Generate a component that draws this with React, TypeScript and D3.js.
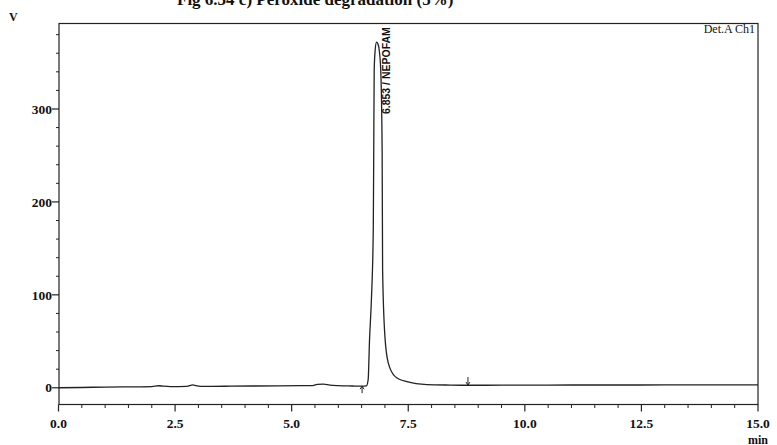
import React from "react";
import * as d3 from "d3";

// ---- data ----
const timeMin: number[] = [
  0, 0.5, 1.0, 1.5, 2.0, 2.15, 2.25, 2.4, 2.75, 2.88, 2.95, 3.05, 3.3, 3.7, 4.2, 4.7, 5.2, 5.45,
  5.55, 5.68, 5.82, 6.0, 6.3, 6.5, 6.6, 6.64, 6.67, 6.71, 6.75, 6.76, 6.77, 6.79, 6.82, 6.85,
  6.87, 6.91, 6.94, 6.95, 7.0, 7.07, 7.22, 7.47, 7.9, 8.4, 8.8, 9.5, 10.5, 11.5, 12.5, 13.5, 14.5, 15.0,
];
const signalMv: number[] = [
  0, 0.3, 0.8, 1.0, 1.3, 2.2, 1.7, 1.3, 1.6, 3.2, 2.2, 1.6, 1.5, 1.7, 1.9, 2.1, 2.3, 2.4,
  3.6, 3.9, 2.9, 2.3, 1.9, 1.7, 2.0, 8.6, 52, 95, 170, 256, 342, 363, 372, 370,
  366, 342, 256, 127, 55, 27, 12, 6.5, 3.4, 2.9, 2.7, 2.8, 2.9, 3.0, 3.0, 3.1, 3.2, 3.2,
];
const yMajorTicks: number[] = [0, 100, 200, 300];
const xMajorTicks: number[] = [0, 2.5, 5, 7.5, 10, 12.5, 15];
const xTickLabels: string[] = ["0.0", "2.5", "5.0", "7.5", "10.0", "12.5", "15.0"];
const peakTimes: number[] = [6.853];
const peakNames: string[] = ["6.853 / NEPOFAM"];
const peakApex: number[] = [372];
const markerTimes: number[] = [6.51, 8.78];
const markerDirs: string[] = ["up", "down"];

const W = 777;
const H = 445;
const left = 59;
const right = 758;
const top = 23.5;
const bottom = 404.5;

export default function App() {
  const x = d3.scaleLinear().domain([0, 15]).range([58.5, right]);
  const y = d3.scaleLinear().domain([-18, 392]).range([bottom, top]);

  const pts: [number, number][] = timeMin.map((t, i) => [t, signalMv[i]]);
  const line = d3
    .line<[number, number]>()
    .x((d) => x(d[0]))
    .y((d) => y(d[1]))
    .curve(d3.curveMonotoneX);

  const yMinor = d3.range(20, 392, 20).filter((v) => v % 100 !== 0);
  const xMinor = d3.range(0, 15.001, 0.5).filter((v) => Math.abs((v / 2.5) - Math.round(v / 2.5)) > 1e-6);

  const serif = "'Liberation Serif', 'Times New Roman', serif";
  const sans = "'Liberation Sans', Arial, sans-serif";
  const ink = "#222";

  // baseline value near a time, for markers
  const baseAt = (t: number) => {
    const i = d3.bisectLeft(timeMin, t);
    const i0 = Math.max(0, i - 1);
    return signalMv[i0];
  };

  return (
    <svg
      width={W}
      height={H}
      style={{ position: "absolute", left: 0, top: 0, background: "#fff" }}
    >
      <rect x={0} y={0} width={W} height={H} fill="#fff" />
      {/* title, partially cut off at top */}
      <text x={177} y={5} fontFamily={serif} fontWeight="bold" fontSize={17} fill="#111">
        Fig 6.34 c) Peroxide degradation (5%)
      </text>
      {/* unit */}
      <text x={9} y={21} fontFamily={serif} fontWeight="bold" fontSize={12} fill="#111">
        V
      </text>

      {/* frame */}
      <rect
        x={left}
        y={top}
        width={right - left}
        height={bottom - top}
        fill="none"
        stroke={ink}
        strokeWidth={1.2}
      />

      {/* y axis ticks */}
      {yMajorTicks.map((v) => (
        <g key={"ym" + v}>
          <line x1={left - 7} x2={left} y1={y(v)} y2={y(v)} stroke={ink} strokeWidth={1.2} />
          <text
            x={left - 7}
            y={y(v)}
            dy="0.35em"
            textAnchor="end"
            fontFamily={serif}
            fontWeight="bold"
            fontSize={13.5}
            fill="#111"
          >
            {v}
          </text>
        </g>
      ))}
      {yMinor.map((v) => (
        <line key={"yn" + v} x1={left - 3} x2={left} y1={y(v)} y2={y(v)} stroke={ink} strokeWidth={1} />
      ))}

      {/* x axis ticks */}
      {xMajorTicks.map((t, i) => (
        <g key={"xm" + t}>
          <line x1={x(t)} x2={x(t)} y1={bottom} y2={bottom + 7} stroke={ink} strokeWidth={1.2} />
          <text
            x={x(t)}
            y={bottom + 23}
            textAnchor="middle"
            fontFamily={serif}
            fontWeight="bold"
            fontSize={13.5}
            fill="#111"
          >
            {xTickLabels[i]}
          </text>
        </g>
      ))}
      {xMinor.map((t) => (
        <line key={"xn" + t} x1={x(t)} x2={x(t)} y1={bottom} y2={bottom + 3.5} stroke={ink} strokeWidth={1} />
      ))}
      <text
        x={x(15)}
        y={bottom + 39}
        textAnchor="middle"
        fontFamily={serif}
        fontWeight="bold"
        fontSize={12}
        fill="#111"
      >
        min
      </text>

      {/* detector label */}
      <text x={755} y={33} textAnchor="end" fontFamily={serif} fontSize={12} fill="#111">
        Det.A Ch1
      </text>

      {/* trace */}
      <path d={line(pts) || ""} fill="none" stroke={ink} strokeWidth={1.3} />

      {/* peak labels */}
      {peakTimes.map((t, i) => (
        <text
          key={"pk" + i}
          transform={`translate(${x(t) + 12},${y(peakApex[i]) + 72}) rotate(-90)`}
          fontFamily={sans}
          fontWeight="bold"
          fontSize={10.5}
          fill="#111"
        >
          {peakNames[i]}
        </text>
      ))}

      {/* integration markers */}
      {markerTimes.map((t, i) => {
        const by = y(baseAt(t));
        const cx = x(t);
        if (markerDirs[i] === "up") {
          return (
            <g key={"mk" + i} stroke={ink} strokeWidth={1} fill="none">
              <line x1={cx} x2={cx} y1={by + 7} y2={by} />
              <path d={`M${cx - 2},${by + 3} L${cx},${by} L${cx + 2},${by + 3}`} />
            </g>
          );
        }
        return (
          <g key={"mk" + i} stroke={ink} strokeWidth={1} fill="none">
            <line x1={cx} x2={cx} y1={by - 8} y2={by} />
            <path d={`M${cx - 2},${by - 3} L${cx},${by} L${cx + 2},${by - 3}`} />
          </g>
        );
      })}
    </svg>
  );
}
